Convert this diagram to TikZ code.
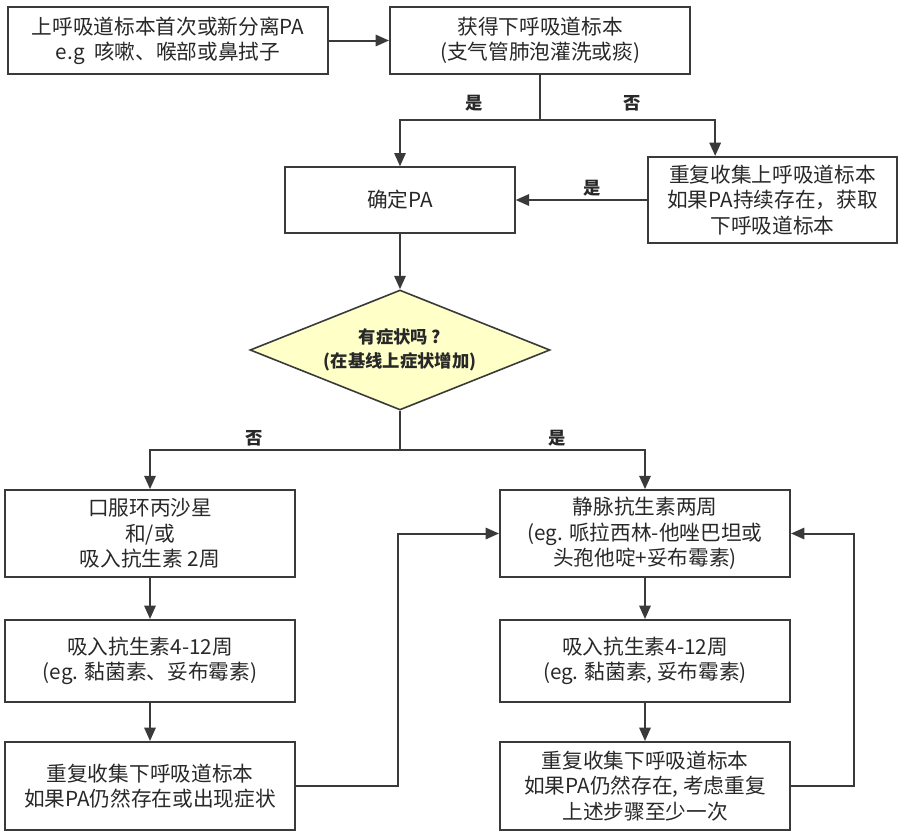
\documentclass[tikz,border=0pt]{standalone}
\usepackage{fontspec}
\setmainfont{Noto Sans CJK SC}
\usetikzlibrary{arrows.meta,shapes.geometric}
\definecolor{lineclr}{RGB}{58,58,58}
\definecolor{txtclr}{RGB}{40,40,40}
\definecolor{qfill}{RGB}{255,255,200}
\begin{document}
\begin{tikzpicture}[x=0.75pt,y=-0.75pt,
    box/.style={draw=lineclr,line width=1.5pt,rectangle,align=center,inner sep=2pt,
      text=txtclr,font=\fontsize{15.5}{19}\selectfont},
    qbox/.style={draw=lineclr,line width=1.2pt,diamond,fill=qfill,aspect=2.5,align=center,
      minimum width=225pt,minimum height=90pt,inner sep=0pt,text=txtclr,
      font=\fontsize{13}{18}\selectfont\bfseries},
    lbl/.style={text=txtclr,font=\fontsize{13}{15}\selectfont\bfseries},
    arr/.style={draw=lineclr,line width=1.5pt,-{Triangle[length=10pt,width=8.5pt]}},
    ln/.style={draw=lineclr,line width=1.5pt}]
  \useasboundingbox (0,0) rectangle (906,835);
  % first samples
  \node[box,minimum width=240pt,minimum height=50pt] (up) at (168,40.5)
    {上呼吸道标本首次或新分离PA\\e.g\ \ 咳嗽、喉部或鼻拭子};
  \node[box,minimum width=225pt,minimum height=50pt] (low) at (540,40.5)
    {获得下呼吸道标本\\(支气管肺泡灌洗或痰)};
  \node[box,minimum width=172pt,minimum height=49pt] (pa) at (400,200) {确定PA};
  \node[box,minimum width=187pt,minimum height=64.5pt] (rep) at (772.5,200)
    {重复收集上呼吸道标本\\如果PA持续存在，获取\\下呼吸道标本};
  \coordinate (s1) at (540,120);
  \draw[arr] (up) -- (low);
  \draw[ln] (low.south) -- (s1);
  \draw[arr] (s1) -| (pa.north);
  \draw[arr] (s1) -| ([xshift=-43pt]rep.north);
  \draw[arr] (rep.west) -- (pa.east);
  \node[lbl] (y1) at (474,103) {是};
  \node[lbl] (n1) at (632,103) {否};
  \node[lbl] (y2) at (592,188) {是};
  % symptoms?
  \node[qbox] (q) at (400,350) {有症状吗 ?\\(在基线上症状增加)};
  \draw[arr] (pa.south) -- (q.north);
  \coordinate (s2) at (400,450);
  \draw[ln] (q.south) -- (s2);
  \node[lbl] (n2) at (254,438) {否};
  \node[lbl] (y3) at (557,438) {是};
  % left column: no symptoms
  \node[box,minimum width=217.5pt,minimum height=65pt] (oral) at (150,533.5)
    {口服环丙沙星\\和/或\\吸入抗生素 2周};
  \node[box,minimum width=217.5pt,minimum height=61.5pt] (inhL) at (150,661)
    {吸入抗生素4-12周\\(eg. 黏菌素、妥布霉素)};
  \node[box,minimum width=217.5pt,minimum height=66pt] (chkL) at (150,786)
    {重复收集下呼吸道标本\\如果PA仍然存在或出现症状};
  % right column: symptoms
  \node[box,minimum width=217.5pt,minimum height=65pt] (iv) at (645,533.5)
    {静脉抗生素两周\\(eg. 哌拉西林-他唑巴坦或\\头孢他啶+妥布霉素)};
  \node[box,minimum width=217.5pt,minimum height=61.5pt] (inhR) at (645,661)
    {吸入抗生素4-12周\\(eg. 黏菌素, 妥布霉素)};
  \node[box,minimum width=217.5pt,minimum height=66pt] (chkR) at (645,786)
    {重复收集下呼吸道标本\\如果PA仍然存在, 考虑重复\\上述步骤至少一次};
  \draw[arr] (s2) -| (oral.north);
  \draw[arr] (s2) -| (iv.north);
  \draw[arr] (oral) -- (inhL);
  \draw[arr] (inhL) -- (chkL);
  \draw[arr] (iv) -- (inhR);
  \draw[arr] (inhR) -- (chkR);
  % loops back to IV
  \coordinate (c1) at (398,786);
  \coordinate (c2) at (854,786);
  \draw[arr] (chkL.east) -- (c1) |- (iv.west);
  \draw[arr] (chkR.east) -- (c2) |- (iv.east);
\end{tikzpicture}
\end{document}
